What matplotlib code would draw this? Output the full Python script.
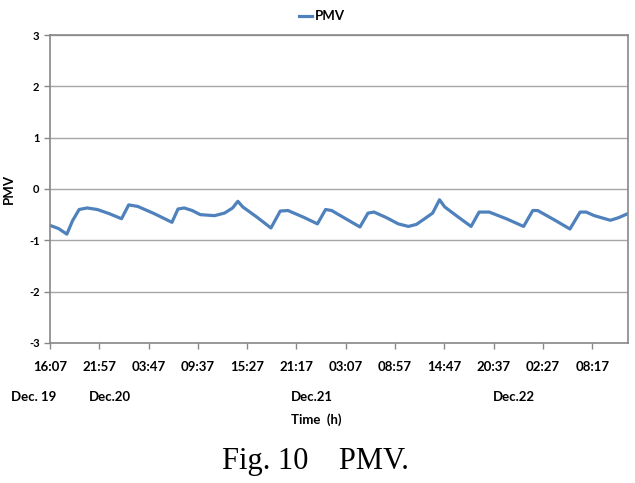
import matplotlib.pyplot as plt

# PMV readings: minutes since Dec. 19 16:07 and PMV value
t_min = [0, 60, 120, 160, 207, 264, 336, 420, 508, 559, 623, 740, 866, 909,
         953, 1010, 1067, 1168, 1239, 1297, 1334, 1369, 1470, 1569, 1635, 1690,
         1800, 1899, 1957, 2000, 2100, 2201, 2258, 2301, 2390, 2473, 2545, 2602,
         2660, 2717, 2766, 2803, 2900, 2990, 3047, 3119, 3240, 3363, 3428, 3463,
         3580, 3692, 3764, 3807, 3865, 3979, 4037, 4103]
pmv = [-0.71, -0.77, -0.88, -0.62, -0.40, -0.37, -0.40, -0.48, -0.58, -0.31,
       -0.34, -0.48, -0.65, -0.39, -0.37, -0.42, -0.50, -0.52, -0.47, -0.37,
       -0.24, -0.35, -0.55, -0.76, -0.43, -0.42, -0.55, -0.68, -0.40, -0.42,
       -0.58, -0.74, -0.47, -0.45, -0.56, -0.68, -0.73, -0.69, -0.58, -0.47,
       -0.21, -0.35, -0.55, -0.73, -0.45, -0.45, -0.58, -0.73, -0.42, -0.42,
       -0.60, -0.78, -0.45, -0.45, -0.52, -0.61, -0.56, -0.48]

tick_labels = ["16:07", "21:57", "03:47", "09:37", "15:27", "21:17",
               "03:07", "08:57", "14:47", "20:37", "02:27", "08:17"]
date_labels = ["Dec. 19", "Dec.20", "Dec.21", "Dec.22"]
date_pos = [-0.33, 1.22, 5.32, 9.42]   # in units of tick intervals

fig = plt.figure(figsize=(6.35, 4.83), dpi=100)
ax = fig.add_axes([0.0787, 0.290, 0.910, 0.6375])

ax.plot(t_min, pmv, color="#4f81bd", lw=2.3, label="PMV")

ax.set_xlim(0, 4103)
ax.set_ylim(-3, 3)
ax.set_yticks(range(-3, 4))
ax.set_yticklabels([str(v) for v in range(-3, 4)], fontsize=8,
                   fontweight="bold", family="Lato")
ax.set_xticks([i * 350 for i in range(12)])
ax.set_xticklabels(tick_labels, fontsize=9.5, fontweight="bold", family="Lato")
ax.tick_params(axis="both", color="#888888", length=4, width=1)
ax.tick_params(axis="x", pad=9)
ax.grid(axis="y", color="#a6a6a6", lw=1)
for s in ax.spines.values():
    s.set_color("#888888")
    s.set_linewidth(1.2)

ax.set_ylabel("PMV", fontsize=9.5, fontweight="bold", family="Lato", labelpad=10)

for lab, pos in zip(date_labels, date_pos):
    ax.text(pos * 350, -4.05, lab, ha="center", va="center", fontsize=9.5,
            fontweight="bold", family="Lato", clip_on=False)
ax.text(0.46, -0.25, "Time  (h)", ha="center", va="center", fontsize=9.5,
        fontweight="bold", family="Lato", transform=ax.transAxes)

ax.legend(loc="lower center", bbox_to_anchor=(0.47, 1.02), frameon=False,
          handlelength=1.0, handletextpad=0.2, borderaxespad=0.1,
          prop={"family": "Lato", "weight": "bold", "size": 9.5})

fig.text(0.496, 0.044, "Fig. 10    PMV.", ha="center", va="center",
         fontsize=22, family="Liberation Serif")

fig.savefig("out.png", dpi=100)
